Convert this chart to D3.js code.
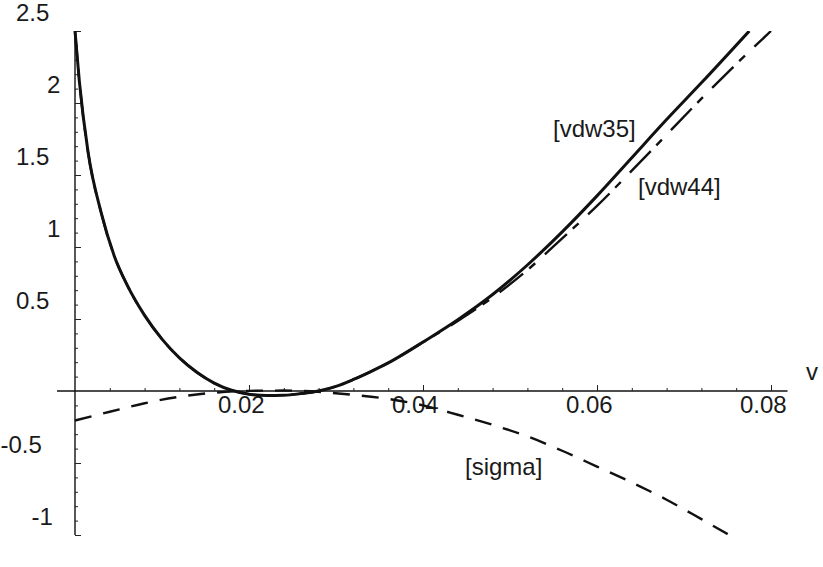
<!DOCTYPE html>
<html>
<head>
<meta charset="utf-8">
<script src="https://cdn.jsdelivr.net/npm/d3@7"></script>
<style>
  html, body { margin: 0; padding: 0; background: #fff; }
  svg { display: block; }
  text { font-family: "Liberation Sans", Arial, Helvetica, sans-serif; fill: #1a1a1a; }
</style>
</head>
<body>
<svg id="chart" width="823" height="567"></svg>
<script>
// ---- data ----
const vdw35V = [0, 0.0005, 0.0015, 0.003, 0.0045, 0.006, 0.008, 0.010, 0.012, 0.014, 0.016, 0.018, 0.020, 0.022, 0.024, 0.026, 0.028, 0.030, 0.032, 0.034, 0.036, 0.038, 0.040, 0.044, 0.048, 0.052, 0.056, 0.060, 0.064, 0.068, 0.072, 0.0775];
const vdw35Y = [2.5, 2.15, 1.66, 1.24, 0.94, 0.735, 0.525, 0.36, 0.23, 0.13, 0.055, 0.005, -0.022, -0.032, -0.03, -0.018, 0.0, 0.032, 0.08, 0.135, 0.195, 0.265, 0.34, 0.495, 0.67, 0.875, 1.105, 1.355, 1.62, 1.885, 2.14, 2.5];

const vdw44V = [0, 0.0005, 0.0015, 0.003, 0.0045, 0.006, 0.008, 0.010, 0.012, 0.014, 0.016, 0.018, 0.020, 0.022, 0.024, 0.026, 0.028, 0.030, 0.032, 0.034, 0.036, 0.038, 0.040, 0.044, 0.048, 0.052, 0.056, 0.060, 0.064, 0.068, 0.072, 0.076, 0.0800];
const vdw44Y = [2.5, 2.15, 1.66, 1.24, 0.94, 0.735, 0.525, 0.36, 0.23, 0.13, 0.055, 0.005, -0.022, -0.032, -0.03, -0.018, 0.0, 0.032, 0.08, 0.135, 0.195, 0.265, 0.338, 0.487, 0.65, 0.84, 1.06, 1.285, 1.53, 1.78, 2.03, 2.27, 2.5];

const sigmaV = [0, 0.004, 0.008, 0.012, 0.016, 0.020, 0.024, 0.028, 0.032, 0.036, 0.040, 0.044, 0.048, 0.052, 0.056, 0.060, 0.064, 0.068, 0.072, 0.0752];
const sigmaY = [-0.205, -0.144, -0.085, -0.04, -0.012, 0.001, 0.003, -0.006, -0.027, -0.055, -0.1, -0.165, -0.235, -0.315, -0.415, -0.525, -0.635, -0.755, -0.89, -1.0];

const xTickLabels = ["0.02", "0.04", "0.06", "0.08"];
const yTickLabels = ["2.5", "2", "1.5", "1", "0.5", "-0.5", "-1"];
const seriesLabels = ["[vdw35]", "[vdw44]", "[sigma]"];
const axisLabel = "v";

// ---- layout ----
const svg = d3.select("#chart");
const x = d3.scaleLinear().domain([0, 0.08]).range([75, 771]);
const y = d3.scaleLinear().domain([-1, 2.5]).range([535, 31]);

// clip
svg.append("defs").append("clipPath").attr("id", "plotclip")
  .append("rect")
  .attr("x", x(0) - 2).attr("y", y(2.5))
  .attr("width", x(0.0825) - x(0) + 2).attr("height", y(-1) - y(2.5));

// axis lines
svg.append("line")
  .attr("x1", x(-0.00207)).attr("x2", x(0.0819))
  .attr("y1", y(0)).attr("y2", y(0))
  .attr("stroke", "#111").attr("stroke-width", 1.4);
svg.append("line")
  .attr("x1", x(0)).attr("x2", x(0))
  .attr("y1", y(2.5)).attr("y2", y(-1))
  .attr("stroke", "#111").attr("stroke-width", 1.4);

// y ticks (pointing right)
const yMinor = d3.range(-10, 26).map(i => i / 10).filter(v => Math.abs(v * 2 - Math.round(v * 2)) > 1e-6);
const yMajor = [-1, -0.5, 0.5, 1, 1.5, 2, 2.5];
function tickStyle(g) {
  g.select(".domain").remove();
  g.selectAll(".tick line").attr("stroke", "#222").attr("stroke-width", 1);
}
svg.append("g").attr("transform", `translate(${x(0)},0)`)
  .call(d3.axisRight(y).tickValues(yMinor).tickSize(3).tickFormat(""))
  .call(tickStyle);
svg.append("g").attr("transform", `translate(${x(0)},0)`)
  .call(d3.axisRight(y).tickValues(yMajor).tickSize(6).tickFormat(""))
  .call(tickStyle);

// x ticks (pointing up)
const xAll = d3.range(1, 21).map(i => i * 0.004);
const xMajor = [0.02, 0.04, 0.06, 0.08];
const xMinor = xAll.filter(v => !xMajor.some(m => Math.abs(m - v) < 1e-9));
svg.append("g").attr("transform", `translate(0,${y(0)})`)
  .call(d3.axisTop(x).tickValues(xMinor).tickSize(3).tickFormat(""))
  .call(tickStyle);
svg.append("g").attr("transform", `translate(0,${y(0)})`)
  .call(d3.axisTop(x).tickValues(xMajor).tickSize(6).tickFormat(""))
  .call(tickStyle);

// tick labels
const fs = 24, cw = 15.5;
svg.append("g").selectAll("text").data(yTickLabels).join("text")
  .attr("x", d => 62.5 - d.length * cw)
  .attr("y", d => y(+d) - 10)
  .attr("font-size", fs)
  .text(d => d);
svg.append("g").selectAll("text").data(xTickLabels).join("text")
  .attr("x", d => x(+d) - d.length * cw / 2)
  .attr("y", y(0) + 21.5)
  .attr("font-size", fs)
  .text(d => d);

svg.append("text").attr("x", 806).attr("y", 380).attr("font-size", fs).text(axisLabel);

// curves
const line = d3.line().x(d => x(d[0])).y(d => y(d[1])).curve(d3.curveMonotoneX);
const plot = svg.append("g").attr("clip-path", "url(#plotclip)");

plot.append("path")
  .attr("d", line(d3.zip(sigmaV, sigmaY)))
  .attr("fill", "none").attr("stroke", "#111").attr("stroke-width", 2.4)
  .attr("stroke-dasharray", "17,12");

plot.append("path")
  .attr("d", line(d3.zip(vdw44V, vdw44Y)))
  .attr("fill", "none").attr("stroke", "#111").attr("stroke-width", 2.4)
  .attr("stroke-dasharray", "30,8,8,13");

plot.append("path")
  .attr("d", line(d3.zip(vdw35V, vdw35Y)))
  .attr("fill", "none").attr("stroke", "#111").attr("stroke-width", 3);

// series labels
const labelPos = [[553, 137], [638, 195], [465, 475]];
svg.append("g").selectAll("text").data(seriesLabels).join("text")
  .attr("x", (d, i) => labelPos[i][0])
  .attr("y", (d, i) => labelPos[i][1])
  .attr("font-size", fs)
  .text(d => d);
</script>
</body>
</html>
